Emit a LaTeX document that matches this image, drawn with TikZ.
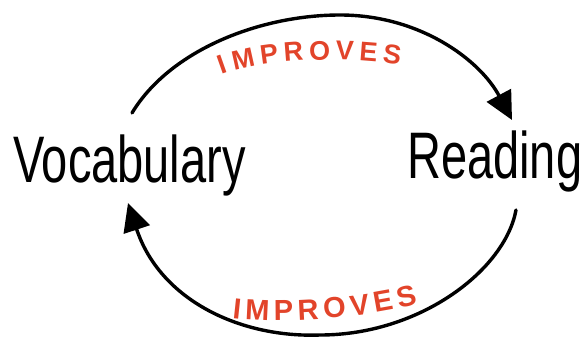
\documentclass[tikz,border=0pt]{standalone}
\usepackage{fontspec}
\usepackage{graphicx}
\setmainfont{Liberation Sans}
\usetikzlibrary{arrows.meta,decorations.text}
\definecolor{impred}{RGB}{226,68,42}
\tikzset{
  word/.style={inner sep=0pt, anchor=base west, font=\fontsize{47}{47}\selectfont},
  conn/.style={line width=3.4pt, line cap=round, -{Triangle[length=28pt,width=27pt]}},
  label/.style={decorate,
    decoration={text along path, text align={fit to path},
      text={|\color{impred}\bfseries\fontsize{#1}{#1}\selectfont|IMPROVES}}},
}
\begin{document}
\begin{tikzpicture}[x=1pt,y=-1pt]
\useasboundingbox (0,0) rectangle (588,337);
% words
\node[word] (voc) at (13,182) {\scalebox{1}[1.4]{Vocabulary}};
\node[word] (read) at (407,178) {\scalebox{1}[1.4]{Reading}};
% connector end points
\coordinate (vocOut) at (132,113);
\coordinate (readIn) at (512,120);
\coordinate (readOut) at (516,210);
\coordinate (vocIn) at (128,203);
% arcs
\draw[conn] (vocOut) .. controls (170,50) and (260,15) .. (340,15)
  .. controls (420,15) and (480,60) .. (readIn);
\draw[conn] (readOut) .. controls (505,270) and (420,335) .. (320,335)
  .. controls (240,338) and (160,300) .. (vocIn);
% labels
\path[label=27] (222,75) .. controls (255,62) and (330,54) .. (400,65);
\path[label=29] (232,318) .. controls (290,325) and (370,317) .. (418,304);
\end{tikzpicture}
\end{document}
